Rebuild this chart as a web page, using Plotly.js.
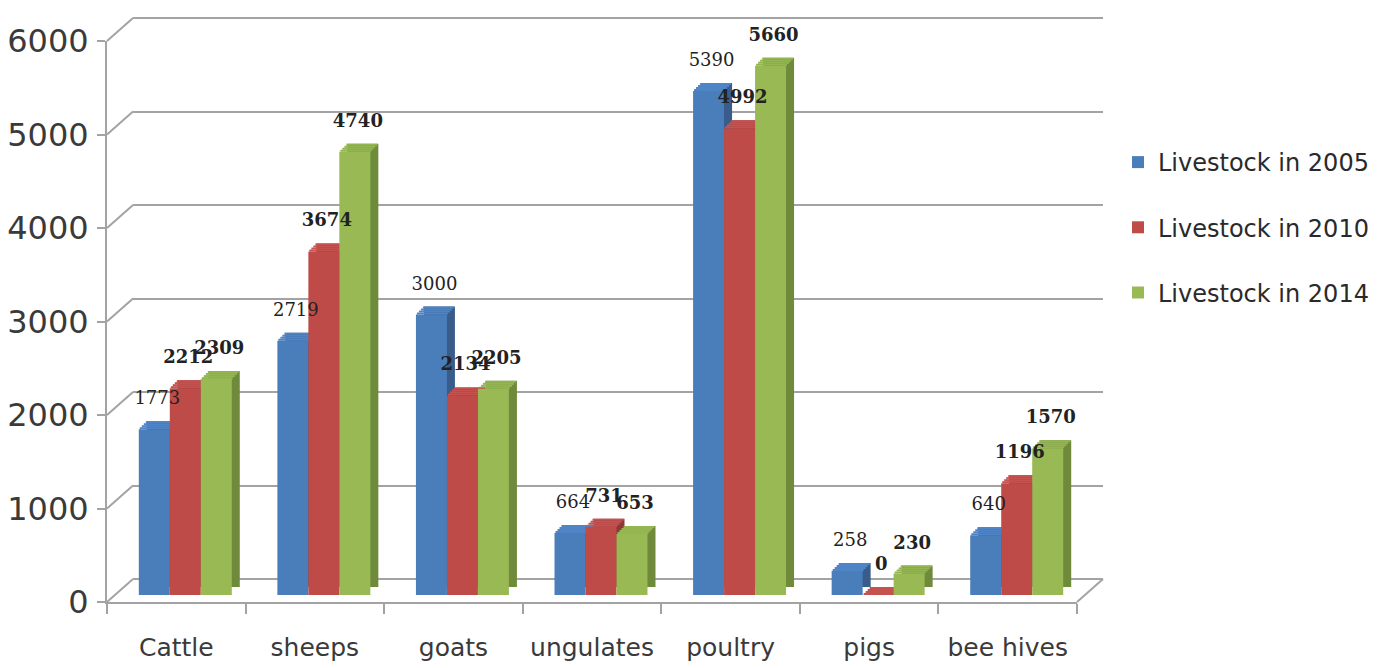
<!DOCTYPE html>
<html>
<head>
<meta charset="utf-8">
<script src="https://cdn.plot.ly/plotly-3.0.1.min.js"></script>
<style>html,body{margin:0;padding:0;background:#fff;}#chart{width:1381px;height:668px;}</style>
</head>
<body>
<div id="chart"></div>
<script>
// ---- data ----
const categories = ["Cattle", "sheeps", "goats", "ungulates", "poultry", "pigs", "bee hives"];
const seriesNames = ["Livestock in 2005", "Livestock in 2010", "Livestock in 2014"];
const livestock2005 = [1773, 2719, 3000, 664, 5390, 258, 640];
const livestock2010 = [2212, 3674, 2134, 731, 4992, 0, 1196];
const livestock2014 = [2309, 4740, 2205, 653, 5660, 230, 1570];
const yTicks = [0, 1000, 2000, 3000, 4000, 5000, 6000];

// ---- styling ----
const frontColors = ["#4a7ebb", "#be4b48", "#98b954"];
const topColors   = ["#4f84c6", "#c65250", "#93b552"];
const sideColors  = ["#385d8a", "#8c3836", "#6f8a3a"];
const labelWeights = ["normal", "bold", "bold"];
const seriesValues = [livestock2005, livestock2010, livestock2014];

const W = 1381, H = 668;
const M = {l: 107, r: 278, t: 4, b: 50};
const PW = W - M.l - M.r, PH = H - M.t - M.b;
const xd = px => (px - M.l) / PW;
const yd = py => (M.t + PH - py) / PH;
const YMAX = 6000;
const AXPX = 561;                   // pixel height of 0..6000
const pxPerUnit = AXPX / YMAX;
const depth = 8;                    // bar depth in px
const topRows = 4;                  // slices used to draw the slanted top face
const rowPx = depth / topRows;
const rowUnits = rowPx / pxPerUnit;
const padUnits = 100;               // extra range so edge gridlines / floor slabs show

// wall geometry (px)
const front = {x0: 107, x1: 1077, yb: 602};
const wallOff = {dx: 26, dy: 23};
const barOff = {dx: 9, dy: 7};
const labelOff = {dx: 3, dy: 18};

function dom(offx, offy, padBottom, padTop) {
  const pb = (padBottom || 0) * pxPerUnit, pt = (padTop || 0) * pxPerUnit;
  return {
    x: [xd(front.x0 + offx), xd(front.x1 + offx)],
    y: [yd(front.yb - offy + pb), yd(front.yb - offy - AXPX - pt)]
  };
}

const gridColor = "#a3a3a3";
const catRange = [-0.5, categories.length - 0.5];
function hiddenX(d, anchor) {
  return {domain: d, anchor: anchor, type: "category", categoryorder: "array",
    categoryarray: categories, range: catRange, visible: false, fixedrange: true};
}
function hiddenY(d, anchor, lo) {
  return {domain: d, anchor: anchor, range: [lo || 0, YMAX], visible: false, fixedrange: true};
}

const traces = [];
const layout = {};
let axN = 2;   // next free axis number (1 = front axes)

// front axes subplot (xy) – invisible anchor trace
traces.push({type: "scatter", x: categories, y: categories.map(() => 0), mode: "markers",
  marker: {opacity: 0}, hoverinfo: "skip", showlegend: false, xaxis: "x", yaxis: "y"});

// back wall subplot
{
  const n = axN++;
  const d = dom(wallOff.dx, wallOff.dy, padUnits, padUnits);
  traces.push({type: "scatter", x: categories, y: categories.map(() => 0), mode: "markers",
    marker: {opacity: 0}, hoverinfo: "skip", showlegend: false, xaxis: "x" + n, yaxis: "y" + n});
  layout["xaxis" + n] = hiddenX(d.x, "y" + n);
  layout["yaxis" + n] = {domain: d.y, anchor: "x" + n, range: [-padUnits, YMAX + padUnits],
    tickvals: yTicks, showgrid: true, gridcolor: gridColor, gridwidth: 2, zeroline: false,
    showticklabels: false, ticks: "", showline: false, fixedrange: true};
}

// helper: add one bar subplot
function barLayer(offx, offy, makeTrace) {
  const n = axN++;
  const d = dom(offx, offy, padUnits, 0);
  layout["xaxis" + n] = hiddenX(d.x, "y" + n);
  layout["yaxis" + n] = hiddenY(d.y, "x" + n, -padUnits);
  seriesValues.forEach((vals, i) => {
    const t = makeTrace(vals, i);
    Object.assign(t, {type: "bar", x: categories, name: seriesNames[i], legendgroup: "g" + i,
      cliponaxis: false, xaxis: "x" + n, yaxis: "y" + n});
    if (t.showlegend === undefined) t.showlegend = false;
    if (t.hoverinfo === undefined) t.hoverinfo = "skip";
    traces.push(t);
  });
}

// side faces
barLayer(barOff.dx + depth, barOff.dy + depth, (vals, i) => ({
  y: vals, marker: {color: sideColors[i], line: {width: 0}}}));
// top faces, drawn as thin slices shifted progressively to the right
for (let r = 0; r < topRows; r++) {
  barLayer(barOff.dx + rowPx * (r + 0.5), barOff.dy, (vals, i) => ({
    y: vals.map(() => rowUnits), base: vals.map(v => v + r * rowUnits),
    marker: {color: topColors[i], line: {width: 0}}}));
}
// front faces
barLayer(barOff.dx, barOff.dy, (vals, i) => ({
  y: vals, showlegend: true, hoverinfo: "x+y+name",
  marker: {color: frontColors[i], line: {width: 0}}}));
// value labels
barLayer(barOff.dx + labelOff.dx, barOff.dy + labelOff.dy, (vals, i) => ({
  y: vals, marker: {color: "rgba(0,0,0,0)", line: {width: 0}},
  text: vals.map(String), textposition: "outside", constraintext: "none", textangle: 0,
  textfont: {family: "DejaVu Serif", size: 18, color: "#222", weight: labelWeights[i]}}));

// diagonal connectors between front axis ticks and back wall gridlines
const shapes = [];
yTicks.forEach(v => shapes.push({type: "line", layer: "below",
  xref: "paper", xsizemode: "pixel", xanchor: xd(front.x0), x0: 0, x1: wallOff.dx,
  yref: "paper", ysizemode: "pixel", yanchor: yd(front.yb - v * pxPerUnit), y0: 0, y1: wallOff.dy,
  line: {color: gridColor, width: 2}}));
shapes.push({type: "line", layer: "below",
  xref: "paper", xsizemode: "pixel", xanchor: xd(front.x1), x0: 0, x1: wallOff.dx,
  yref: "paper", ysizemode: "pixel", yanchor: yd(front.yb), y0: 0, y1: wallOff.dy,
  line: {color: gridColor, width: 2}});

const tickFont = {family: "DejaVu Sans", color: "#3a3a3a"};
const dFront = dom(0, 0);

Object.assign(layout, {
  width: W, height: H, autosize: false,
  margin: M,
  paper_bgcolor: "#ffffff",
  plot_bgcolor: "rgba(0,0,0,0)",
  barmode: "group", bargap: 0.329, bargroupgap: 0,
  showlegend: true,
  legend: {x: xd(1118), xanchor: "left", y: yd(140), yanchor: "top",
    font: {family: "DejaVu Sans", size: 24, color: "#2a2a2a"},
    traceorder: "grouped", tracegroupgap: 31, bgcolor: "rgba(0,0,0,0)"},
  xaxis: {domain: dFront.x, anchor: "y", type: "category", categoryorder: "array",
    categoryarray: categories, range: catRange, fixedrange: true,
    showline: true, linecolor: gridColor, linewidth: 2,
    ticks: "outside", tickson: "boundaries", ticklen: 10, tickwidth: 2, tickcolor: gridColor,
    tickfont: Object.assign({size: 25}, tickFont), ticklabelstandoff: 22,
    showgrid: false, zeroline: false},
  yaxis: {domain: dFront.y, anchor: "x", range: [0, YMAX], tickvals: yTicks, fixedrange: true,
    showline: true, linecolor: gridColor, linewidth: 2,
    ticks: "outside", ticklen: 8, tickwidth: 2, tickcolor: gridColor,
    tickfont: Object.assign({size: 32}, tickFont), ticklabelstandoff: 2,
    showgrid: false, zeroline: false},
  shapes: shapes
});

Plotly.newPlot("chart", traces, layout, {displayModeBar: false, staticPlot: true});
</script>
</body>
</html>
